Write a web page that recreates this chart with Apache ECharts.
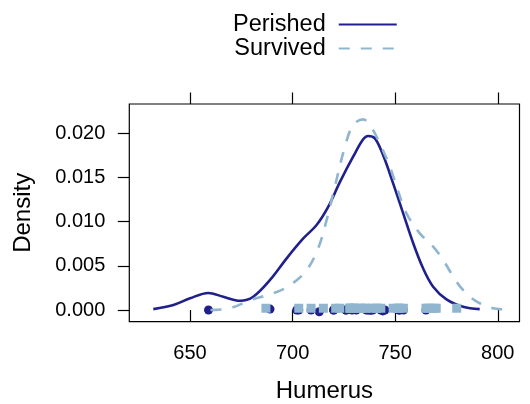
<!DOCTYPE html>
<html>
<head>
<meta charset="utf-8">
<script src="https://cdn.jsdelivr.net/npm/echarts@6/dist/echarts.min.js"></script>
<style>
html,body{margin:0;padding:0;background:#fff;}
#chart{width:530px;height:404px;}
</style>
</head>
<body>
<div id="chart"></div>
<script>
// ---- data ----
var groupNames = ['Perished', 'Survived'];
var xTicks = [650, 700, 750, 800];
var yTicks = [0, 0.005, 0.010, 0.015, 0.020];

// density curve estimates: [Humerus, Density]
var perishedDensity = [
  [632.1,0.0001],[641.9,0.00057],[650,0.00132],[658.9,0.00193],[666.2,0.0015],
  [674.4,0.00104],[680.8,0.0015],[689,0.0034],[697.1,0.00585],[705.2,0.0081],
  [711.7,0.00962],[717.4,0.0117],[723.1,0.0145],[729.5,0.01735],[734.4,0.01932],
  [736.8,0.0197],[740.1,0.01943],[744.1,0.01754],[749,0.01434],[753.9,0.01094],
  [758.8,0.00755],[763.6,0.00472],[768.5,0.00264],[775,0.00121],[783.1,0.00037],
  [791.2,0.0001]
];
var survivedDensity = [
  [660,0.0],[669.5,0.0002],[679.2,0.0011],[690.6,0.0019],[698.7,0.0028],
  [706.8,0.0045],[712.5,0.007],[716.6,0.0102],[720.6,0.01396],[725.5,0.01849],
  [729.5,0.02094],[734.4,0.02158],[737.7,0.02094],[742.5,0.01886],[747.4,0.01622],
  [750.7,0.01396],[755.5,0.01094],[762,0.00868],[768.5,0.00717],[773.4,0.00566],
  [779.9,0.0032],[786.4,0.0015],[792.8,0.00057],[797.7,0.0002],[803.4,0.00005],[806,0.0]
];

// raw observations (rug points) and their small vertical jitter
var perishedHumerus = [659,689,702,703,709,713,720,720,726,726,729,731,736,737,738,738,739,743,744,745,752,752,754,765];
var perishedJitter  = [0,0.0001,0,0,0,-0.0002,0,0,0,0,0,0,0,0,0,0,0,0,-0.0001,0,0,0,0,0];
var survivedHumerus = [687,703,709,715,728,721,723,728,728,729,730,730,733,733,735,736,739,741,741,743,749,751,752,752,754,765,766,767,769,770,780];
var survivedJitter  = [0.0002,0.0002,0.0002,0.0002,0.0002,0.0002,0.0002,0.0002,0.0002,0.0002,0.0002,0.0002,0.0002,0.0002,0.0002,0.0002,0.0002,0.0002,0.0002,0.0002,0.0002,0.0002,0.0002,0.0002,0.0002,0.0002,0.0002,0.0002,0.0002,0.0002,0.0002];

var colPerished = '#20208c';
var colSurvived = '#8fb5cf';

function pts(xs, ys){ return xs.map(function(v,i){ return [v, ys[i]]; }); }

var chart = echarts.init(document.getElementById('chart'), null, {renderer:'canvas'});
var font = 'Liberation Sans, Arial, Helvetica, sans-serif';

chart.setOption({
  animation: false,
  textStyle: {fontFamily: font},
  grid: {left: 129.3, right: 10.5, top: 104, bottom: 82.3, show: true,
         outerBoundsMode: 'none', containLabel: false,
         borderColor: '#000', borderWidth: 1.2, backgroundColor: 'transparent'},
  legend: {
    data: groupNames,
    orient: 'vertical', left: 228, top: 7.4, itemGap: 0,
    align: 'right',
    itemWidth: 58, itemHeight: 14,
    itemStyle: {opacity: 0},
    textStyle: {fontSize: 23.5, color: '#000', lineHeight: 22.6, padding: [0, 8, 0, 0], fontFamily: font},
    selectedMode: false
  },
  xAxis: [{
    type: 'value', min: 620.4, max: 810.6, position: 'bottom',
    name: 'Humerus', nameLocation: 'middle', nameGap: 58,
    nameTextStyle: {fontSize: 24, color: '#000', fontFamily: font},
    axisLine: {show: false},
    axisTick: {show: true, inside: false, length: 11.5, customValues: xTicks, lineStyle: {color: '#000', width: 1.2}},
    axisLabel: {show: true, customValues: xTicks, fontSize: 20, color: '#000', margin: 22, fontFamily: font},
    splitLine: {show: false}
  }, {
    type: 'value', min: 620.4, max: 810.6, position: 'top',
    axisLine: {show: false},
    axisTick: {show: true, inside: false, length: 11.5, customValues: xTicks, lineStyle: {color: '#000', width: 1.2}},
    axisLabel: {show: false},
    splitLine: {show: false}
  }],
  yAxis: {
    type: 'value', min: -0.001324, max: 0.02332,
    name: 'Density', nameLocation: 'middle', nameGap: 94, nameRotate: 90,
    nameTextStyle: {fontSize: 24, color: '#000', fontFamily: font},
    axisLine: {show: false},
    axisTick: {show: true, inside: false, length: 11.5, customValues: yTicks, lineStyle: {color: '#000', width: 1.2}},
    axisLabel: {show: true, customValues: yTicks, fontSize: 20, color: '#000', margin: 24, fontFamily: font,
                formatter: function(v){ return v.toFixed(3); }},
    splitLine: {show: false}
  },
  series: [
    {name: 'Perished', type: 'line', data: perishedDensity, smooth: 0.35, symbol: 'none',
     lineStyle: {color: colPerished, width: 2.6}, itemStyle: {color: colPerished}, z: 2},
    {name: 'Perished points', type: 'scatter', data: pts(perishedHumerus, perishedJitter),
     symbol: 'circle', symbolSize: 9, itemStyle: {color: colPerished, opacity: 1}, z: 3},
    {name: 'Survived', type: 'line', data: survivedDensity, smooth: 0.35, symbol: 'none',
     lineStyle: {color: colSurvived, width: 2.6, type: [11, 11]}, itemStyle: {color: colSurvived}, z: 4},
    {name: 'Survived points', type: 'scatter', data: pts(survivedHumerus, survivedJitter),
     symbol: 'rect', symbolSize: 9, itemStyle: {color: colSurvived, opacity: 1}, z: 5}
  ]
});
</script>
</body>
</html>
